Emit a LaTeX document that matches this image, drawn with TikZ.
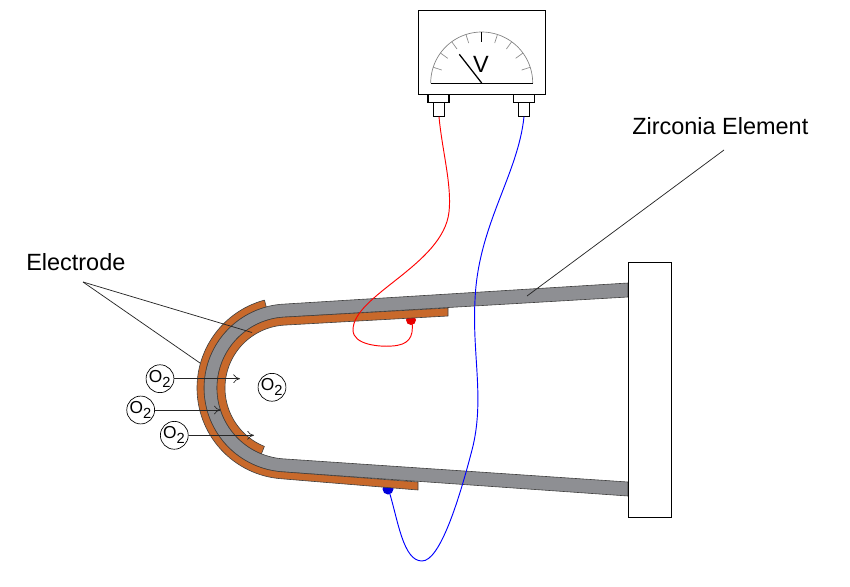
\documentclass[tikz,border=0pt]{standalone}
\usepackage{fontspec}
\setmainfont{Liberation Sans}
\usetikzlibrary{arrows.meta}
\definecolor{elec}{HTML}{C8692B}
\definecolor{zirc}{HTML}{8E8F93}
\newcommand{\Otwo}{O\textsubscript{\fontsize{11}{13}\selectfont 2}}
\tikzset{
  box/.style={draw=black,line width=.85pt,fill=white,inner sep=0pt},
  caption/.style={font=\fontsize{17.6}{20}\selectfont,inner sep=0pt},
  gas/.style={draw=black,line width=.5pt,circle,fill=white,minimum size=20.6pt,inner sep=0pt,font=\fontsize{13}{15}\selectfont},
  flow/.style={line width=.5pt,draw=black!85,-{To[length=5pt,width=6.5pt]}},
  leader/.style={line width=.55pt,draw=black!85},
  body/.style={draw=black!75,line width=.45pt,line join=round},
  wire/.style={line width=.7pt},
  tick/.style={draw=black!45,line width=.5pt}
}
\begin{document}
\begin{tikzpicture}[x=.75pt,y=-.75pt]
\useasboundingbox (0,0) rectangle (850,586);
% contacts (behind the electrodes)
\fill[red!90!black] (411,320) circle[radius=5];
\fill[blue!85!black] (388,489) circle[radius=5.5];
% zirconia tube
\draw[body,fill=zirc] (628,283) -- plot[domain=93.5:266,samples=70] ({288+84*cos(\x)},{388-84*sin(\x)}) -- (628,496) -- (628,482)
  -- plot[domain=266:93.5,samples=70] ({288+71*cos(\x)},{388-71*sin(\x)}) -- (628,297) -- cycle;
% outer electrode
\draw[body,fill=elec] plot[domain=105:266,samples=60] ({288+91*cos(\x)},{388-91*sin(\x)}) -- (418,490) -- (418,482)
  -- plot[domain=266:105,samples=60] ({288+84*cos(\x)},{388-84*sin(\x)}) -- cycle;
% inner electrode
\draw[body,fill=elec] plot[domain=248:93.5,samples=60] ({288+71*cos(\x)},{388-71*sin(\x)}) -- (448,308) -- (448,316)
  -- plot[domain=93.5:248,samples=60] ({288+63*cos(\x)},{388-63*sin(\x)}) -- cycle;
% holder block
\node[box,minimum width=43pt*.75,minimum height=255pt*.75,anchor=north west] (block) at (628.3,262.3) {};
% meter
\node[box,minimum width=127pt*.75,minimum height=84.5pt*.75,anchor=north west] (meter) at (418,9.5) {};
\node[box,minimum width=21pt*.75,minimum height=8pt*.75,anchor=north] (capL) at (438.5,94) {};
\node[box,minimum width=11pt*.75,minimum height=13.5pt*.75,anchor=north] (termL) at (439,102) {};
\node[box,minimum width=21pt*.75,minimum height=8pt*.75,anchor=north] (capR) at (523.8,94) {};
\node[box,minimum width=11pt*.75,minimum height=13.5pt*.75,anchor=north] (termR) at (524,102) {};
\coordinate (pivot) at (481.7,83);
\coordinate (needle) at (459.3,54.3);
\draw[draw=black!50,line width=.5pt] plot[domain=0:180,samples=60] ({481.7+51*cos(\x)},{83-51*sin(\x)});
\foreach \a in {18,36,54,72,108,126,144,162}
  \draw[tick] ({481.7+51*cos(\a)},{83-51*sin(\a)}) -- ({481.7+42*cos(\a)},{83-42*sin(\a)});
\draw[line width=.6pt] (481.7,32) -- (481.7,42);
\draw[line width=.75pt] (430.7,83) -- (532.7,83);
\draw[line width=.95pt] (pivot) -- (needle);
\node[inner sep=0pt,font=\fontsize{17.6}{20}\selectfont] (vlabel) at (481,64) {V};
% wires
\coordinate (redend) at (412,322);
\coordinate (blueend) at (389,491);
\draw[wire,red] (termL.south) .. controls (442,150) and (452,185) .. (449,212)
  .. controls (443,265) and (353,295) .. (353,330)
  .. controls (353,345) and (380,347) .. (392,346)
  .. controls (408,345) and (414,338) .. (redend);
\draw[wire,blue] (termR.south) .. controls (518,175) and (478,225) .. (475,300)
  .. controls (472,355) and (485,400) .. (472,450)
  .. controls (459,500) and (440,561) .. (422,561)
  .. controls (403,561) and (398,520) .. (blueend);
% gas
\node[gas] (o1) at (160,378.7) {\Otwo};
\node[gas] (o2) at (140.7,410) {\Otwo};
\node[gas] (o3) at (174.3,435.3) {\Otwo};
\node[gas] (o4) at (272,387.3) {\Otwo};
\coordinate (a1) at (240,378.7);
\coordinate (a2) at (220.7,410);
\coordinate (a3) at (254,435.3);
\draw[flow] (o1) -- (a1);
\draw[flow] (o2) -- (a2);
\draw[flow] (o3) -- (a3);
% captions
\node[caption,anchor=west] (electrode) at (26,262) {Electrode};
\node[caption,anchor=west] (zirconia) at (632,126) {Zirconia Element};
\coordinate (e0) at (83,282);
\coordinate (e1) at (252,332.5);
\coordinate (e2) at (200,363);
\coordinate (z0) at (724,150);
\coordinate (z1) at (527,296);
\draw[leader] (e0) -- (e1);
\draw[leader] (e0) -- (e2);
\draw[leader] (z0) -- (z1);
\end{tikzpicture}
\end{document}
